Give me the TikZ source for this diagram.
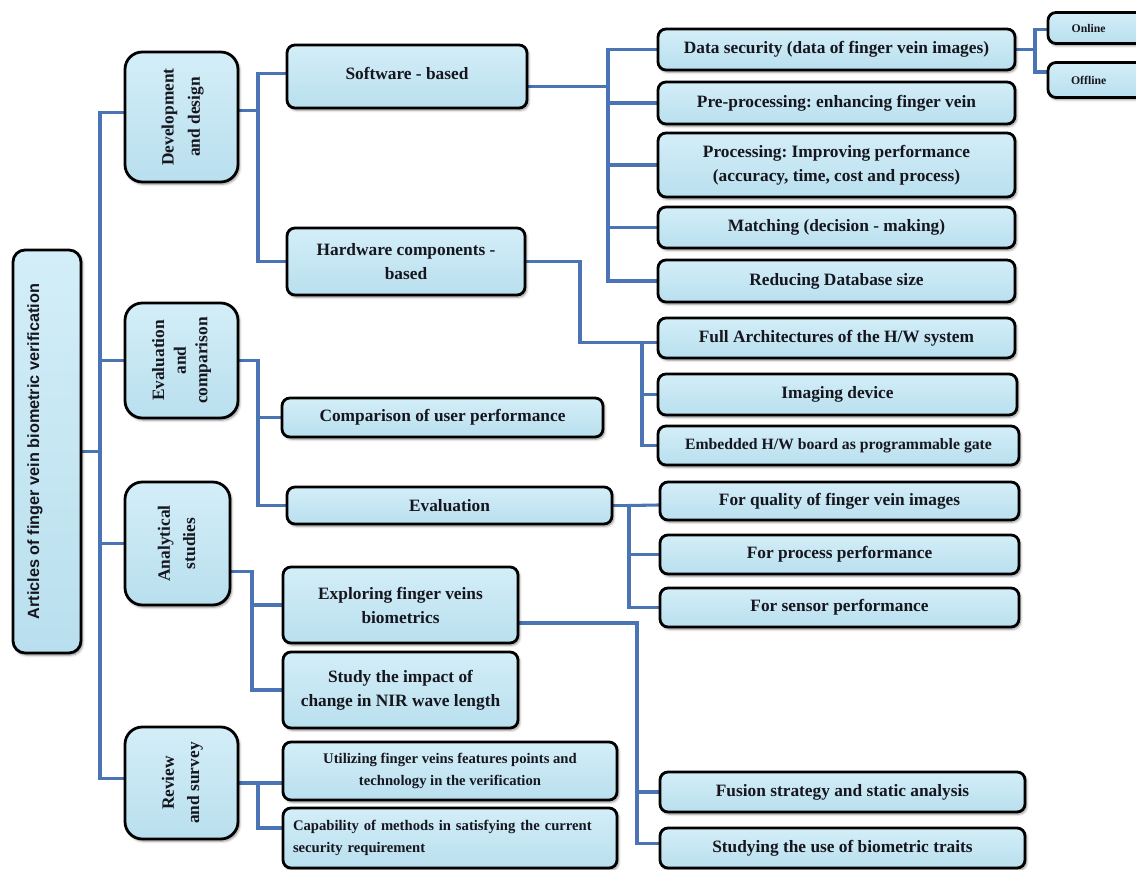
\documentclass[tikz,border=0pt]{standalone}
\usepackage{fontspec}
\usepackage{graphicx}
\setmainfont{Liberation Serif}
\newfontfamily\titlesans{Liberation Sans}
\usetikzlibrary{shadows.blur}
\frenchspacing

\definecolor{boxtop}{HTML}{D3EEF8}
\definecolor{boxbot}{HTML}{B9DFEE}
\definecolor{wire}{HTML}{4A74B4}
\definecolor{ink}{HTML}{16161F}

\pgfdeclarelayer{bg}
\pgfsetlayers{bg,main}

% vertical text block for the category boxes
\newcommand{\vtext}[2]{\rotatebox{90}{\def\arraystretch{#1}\begin{tabular}{@{}c@{}}#2\end{tabular}}}

\begin{document}
\begin{tikzpicture}[x=0.75pt,y=-0.75pt,
  sz/.style 2 args={minimum width=#1*0.75pt, minimum height=#2*0.75pt},
  box/.style={draw=black, line width=2.1pt, rounded corners=6pt,
    top color=boxtop, bottom color=boxbot, text=ink, align=center,
    inner sep=2pt, font=\bfseries\fontsize{13}{18}\selectfont,
    blur shadow={shadow xshift=1.2pt, shadow yshift=-1.6pt,
      shadow blur steps=6, shadow opacity=45}},
  cat/.style={box, rounded corners=13pt},
  small/.style={font=\bfseries\fontsize{11}{16}\selectfont},
  tiny/.style={font=\bfseries\fontsize{8.8}{10}\selectfont},
  conn/.style={draw=wire, line width=2.3pt, line cap=rect, line join=miter}]

\useasboundingbox (0,0) rectangle (1136,870);

% ---- root ----
\node[box, rounded corners=9pt, sz={68}{403}] (root) at (47,451.5) {};
\node[rotate=90, text=ink, font=\titlesans\bfseries\fontsize{12.2}{14}\selectfont]
  (roottitle) at ([xshift=-9pt]root.center) {Articles of finger vein biometric verification};

% ---- categories ----
\node[cat, sz={113}{130}] (dev) at (181.5,117)
  {\vtext{1.1}{Development\\and design}};
\node[cat, sz={113}{115}] (evc) at (181.5,360.5)
  {\vtext{0.9}{Evaluation\\and\\comparison}};
\node[cat, sz={105}{123}] (ana) at (177.5,543.5)
  {\vtext{1.05}{Analytical\\studies}};
\node[cat, sz={113}{112}] (rev) at (181.5,783)
  {\vtext{1.05}{Review\\and survey}};

% ---- second level ----
\node[box, sz={240}{63}] (sw) at (407,76.5) {\raisebox{5pt}{Software - based}};
\node[box, sz={238}{67}] (hw) at (406,261.5) {Hardware components -\\based};
\node[box, sz={321}{39}] (cmp) at (442.5,417.5) {Comparison of user performance};
\node[box, sz={325}{37}] (evl) at (449.5,505.5) {Evaluation};
\node[box, sz={235}{76}] (exp) at (400.5,605) {Exploring finger veins\\biometrics};
\node[box, sz={235}{76}] (stu) at (400.5,690) {Study the impact of\\change in NIR wave length};
\node[box, small, sz={334}{58}] (uti) at (450,771)
  {Utilizing finger veins features points and\\technology in the verification};
\node[box, small, sz={334}{60}, align=left, text width=314*0.75pt] (cap) at (450,838)
  {Capability of methods in satisfying the current\\security requirement};

% ---- third level ----
\node[box, sz={357}{41}] (ds) at (836.5,49.5) {Data security (data of finger vein images)};
\node[box, sz={357}{42}] (pre) at (836.5,103) {Pre-processing: enhancing finger vein};
\node[box, sz={357}{64}] (proc) at (836.5,165)
  {Processing: Improving performance\\(accuracy, time, cost and process)};
\node[box, sz={357}{41}] (mat) at (836.5,227.5) {Matching (decision - making)};
\node[box, sz={357}{42}] (red) at (836.5,281) {Reducing Database size};
\node[box, sz={357}{40}] (full) at (836.5,338) {Full Architectures of the H/W system};
\node[box, sz={359}{41}] (img) at (837.5,394.5) {Imaging device};
\node[box, sz={361}{39}, font=\bfseries\fontsize{11.8}{14}\selectfont] (emb) at (838.5,445.5)
  {Embedded H/W board as programmable gate};
\node[box, sz={359}{38}] (qual) at (839.5,501) {For quality of finger vein images};
\node[box, sz={359}{39}] (prc) at (839.5,554.5) {For process performance};
\node[box, sz={359}{39}] (sen) at (839.5,607.5) {For sensor performance};
\node[box, sz={365}{40}] (fus) at (842.5,792) {Fusion strategy and static analysis};
\node[box, sz={365}{40}] (sut) at (842.5,848) {Studying the use of biometric traits};

% ---- fourth level ----
\node[box, tiny, sz={100}{31}] (onl) at (1098,28) {\hspace*{-14pt}Online};
\node[box, tiny, sz={100}{35}] (off) at (1098,80) {\hspace*{-14pt}Offline};

% ---- junction columns ----
\coordinate (tr) at (100,0);
\coordinate (jdev) at (258,0);
\coordinate (jsw) at (608,0);
\coordinate (jhwa) at (580,0);
\coordinate (jhw) at (642,0);
\coordinate (jevc) at (258,0);
\coordinate (jevl) at (629,0);
\coordinate (jana) at (252,0);
\coordinate (jexp) at (637,0);
\coordinate (jrev) at (258,0);
\coordinate (jds) at (1035,0);

\begin{pgfonlayer}{bg}
  % trunk
  \draw[conn] (root.east) -- (root.east -| tr);
  \draw[conn] ([yshift=3.5pt]tr |- dev.west) -- ([yshift=3.5pt]tr |- rev.west);
  \draw[conn] ([yshift=3.5pt]tr |- dev.west) -- ([yshift=3.5pt]dev.west);
  \foreach \n in {evc,ana} \draw[conn] (tr |- \n.west) -- (\n.west);
  \draw[conn] ([yshift=3.5pt]tr |- rev.west) -- ([yshift=3.5pt]rev.west);

  % development and design
  \draw[conn] ([yshift=5pt]dev.east) -- ([yshift=5pt]dev.east -| jdev);
  \draw[conn] ([yshift=2.5pt]jdev |- sw.west) -- (jdev |- hw.west);
  \draw[conn] ([yshift=2.5pt]jdev |- sw.west) -- ([yshift=2.5pt]sw.west);
  \draw[conn] (jdev |- hw.west) -- (hw.west);

  % software branch
  \draw[conn] ([yshift=-7.5pt]sw.east) -- ([yshift=-7.5pt]sw.east -| jsw);
  \draw[conn] (jsw |- ds.west) -- (jsw |- red.west);
  \foreach \n in {ds,pre,proc,mat,red} \draw[conn] (jsw |- \n.west) -- (\n.west);

  % data security
  \draw[conn] (ds.east) -- (ds.east -| jds);
  \draw[conn] ([yshift=-1pt]jds |- onl.west) -- ([yshift=6pt]jds |- off.west);
  \draw[conn] ([yshift=-1pt]jds |- onl.west) -- ([yshift=-1pt]onl.west);
  \draw[conn] ([yshift=6pt]jds |- off.west) -- ([yshift=6pt]off.west);

  % hardware branch
  \draw[conn] (hw.east) -- (hw.east -| jhwa) -- ([yshift=-3.5pt]jhwa |- full.west) -- ([yshift=-3.5pt]full.west);
  \draw[conn] ([yshift=-3.5pt]jhw |- full.west) -- (jhw |- emb.west);
  \foreach \n in {img,emb} \draw[conn] (jhw |- \n.west) -- (\n.west);

  % evaluation and comparison
  \draw[conn] (evc.east) -- (evc.east -| jevc);
  \draw[conn] (jevc |- evc.east) -- (jevc |- evl.west);
  \foreach \n in {cmp,evl} \draw[conn] (jevc |- \n.west) -- (\n.west);

  % evaluation
  \draw[conn] (evl.east) -- (evl.east -| jevl);
  \draw[conn] (jevl |- evl.east) -- (jevl |- sen.west);
  \draw[conn] (jevl |- evl.east) -- ([yshift=-3pt]qual.west);
  \foreach \n in {prc,sen} \draw[conn] (jevl |- \n.west) -- (\n.west);

  % analytical studies
  \draw[conn] ([yshift=-21pt]ana.east) -- ([yshift=-21pt]ana.east -| jana);
  \draw[conn] ([yshift=-21pt]jana |- ana.east) -- (jana |- stu.west);
  \foreach \n in {exp,stu} \draw[conn] (jana |- \n.west) -- (\n.west);

  % exploring finger veins
  \draw[conn] ([yshift=-13.5pt]exp.east) -- ([yshift=-13.5pt]exp.east -| jexp);
  \draw[conn] ([yshift=-13.5pt]jexp |- exp.east) -- ([yshift=3.5pt]jexp |- sut.west);
  \draw[conn] (jexp |- fus.west) -- (fus.west);
  \draw[conn] ([yshift=3.5pt]jexp |- sut.west) -- ([yshift=3.5pt]sut.west);

  % review and survey
  \draw[conn] (rev.east) -- (rev.east -| jrev);
  \draw[conn] (jrev |- rev.east) -- ([yshift=7.5pt]jrev |- cap.west);
  \draw[conn] (jrev |- rev.east) -- (rev.east -| uti.west);
  \draw[conn] ([yshift=7.5pt]jrev |- cap.west) -- ([yshift=7.5pt]cap.west);
\end{pgfonlayer}
\end{tikzpicture}
\end{document}
